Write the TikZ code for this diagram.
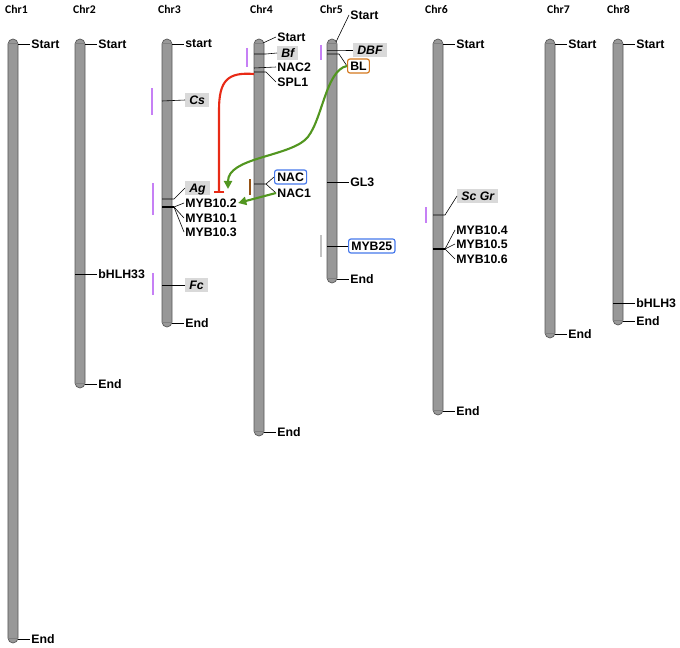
\documentclass[tikz,border=0pt]{standalone}
\usepackage{fontspec}
\setmainfont{Liberation Sans}
\newfontfamily\chrfont{Carlito}
\usepackage{tikz}
\usetikzlibrary{arrows.meta, positioning}
\usepackage{xcolor}
\definecolor{chromgray}{RGB}{152,152,152}
\definecolor{qtlgray}{RGB}{217,217,217}
\definecolor{qtlpurple}{RGB}{198,128,245}
\definecolor{nacbrown}{RGB}{150,82,20}
\definecolor{lightbar}{RGB}{195,195,195}
\definecolor{hitblue}{RGB}{70,120,235}
\definecolor{bloranege}{RGB}{212,120,30}
\definecolor{actgreen}{RGB}{82,150,32}
\definecolor{inhred}{RGB}{232,42,22}

\begin{document}
\begin{tikzpicture}[
    x=0.03cm, y=-0.03cm,
    chrom/.style={rectangle, draw=black!65, fill=chromgray, rounded corners=0.15cm, minimum width=0.3cm, inner sep=0pt, line width=0.6pt},
    capline/.style={draw=black!50, line width=0.4pt},
    chrlab/.style={font=\chrfont\bfseries\fontsize{10}{12}\selectfont, anchor=west, inner sep=0pt},
    gene/.style={font=\bfseries\fontsize{10.5}{12}\selectfont, anchor=west, inner sep=1pt},
    qtl/.style={gene, fill=qtlgray, font=\bfseries\itshape\fontsize{10.5}{12}\selectfont, inner xsep=3.5pt, inner ysep=2.3pt, text height=7.6pt, text depth=0.4pt},
    hit/.style={gene, draw=hitblue, rounded corners=2pt, line width=1pt, fill=white, inner xsep=2.3pt, inner ysep=2pt, text height=7.6pt, text depth=0.4pt},
    tick/.style={black, line width=0.5pt},
    qbar/.style={line width=2.3pt, line cap=butt},
    act/.style={-{Triangle[length=7pt, width=7pt]}, draw=actgreen, line width=1.8pt},
    inhib/.style={-{Bar[width=9pt, line width=1.8pt]}, draw=inhred, line width=1.8pt}
]
    \useasboundingbox (0,0) rectangle (680,647);

    % Chromosomes
    \node[chrom, minimum height=18.12cm] (chr1) at (13,341) {};
    \node[chrom, minimum height=10.47cm] (chr2) at (80,213.5) {};
    \node[chrom, minimum height=8.64cm] (chr3) at (167,183) {};
    \node[chrom, minimum height=11.91cm] (chr4) at (259,237.5) {};
    \node[chrom, minimum height=7.32cm] (chr5) at (332,161) {};
    \node[chrom, minimum height=11.28cm] (chr6) at (438,227) {};
    \node[chrom, minimum height=8.97cm] (chr7) at (550,188.5) {};
    \node[chrom, minimum height=8.58cm] (chr8) at (618,182) {};
    \foreach \c in {chr1,chr2,chr3,chr4,chr5,chr6,chr7,chr8} {
        \draw[capline] ([yshift=-0.15cm]\c.north west) -- ([yshift=-0.15cm]\c.north east);
        \draw[capline] ([yshift=0.15cm]\c.south west) -- ([yshift=0.15cm]\c.south east);
    }

    % Titles
    \node[chrlab] (lab1) at (5,9) {Chr1};
    \node[chrlab] (lab2) at (73,9) {Chr2};
    \node[chrlab] (lab3) at (158,9) {Chr3};
    \node[chrlab] (lab4) at (250,9) {Chr4};
    \node[chrlab] (lab5) at (320,9) {Chr5};
    \node[chrlab] (lab6) at (425,9) {Chr6};
    \node[chrlab] (lab7) at (547,9) {Chr7};
    \node[chrlab] (lab8) at (607,9) {Chr8};

    % QTL bars
    \draw[qbar, draw=qtlpurple] (152,88) -- (152,115);
    \draw[qbar, draw=qtlpurple] (153,183) -- (153,215);
    \draw[qbar, draw=qtlpurple] (153,273) -- (153,295);
    \draw[qbar, draw=qtlpurple] (247,48) -- (247,67);
    \draw[qbar, draw=qtlpurple] (321,45) -- (321,60);
    \draw[qbar, draw=qtlpurple] (426,207) -- (426,223);
    \draw[qbar, draw=nacbrown] (250,179) -- (250,195);
    \draw[qbar, draw=lightbar] (321,235) -- (321,257);

    % Chr1
    \node[gene] (s1) at (30,44) {Start};
    \node[gene] (e1) at (30,639) {End};
    \coordinate (c1-s) at (18,44);
    \coordinate (c1-e) at (18,639);
    \draw[tick] (c1-s) -- (s1.west);
    \draw[tick] (c1-e) -- (e1.west);

    % Chr2
    \node[gene] (s2) at (97,44) {Start};
    \node[gene] (bhlh33) at (97,274) {bHLH33};
    \node[gene] (e2) at (97,384) {End};
    \coordinate (c2-s) at (85,44);
    \coordinate (c2-b) at (75,274);
    \coordinate (c2-e) at (85,384);
    \draw[tick] (c2-s) -- (s2.west);
    \draw[tick] (c2-b) -- (bhlh33.west);
    \draw[tick] (c2-e) -- (e2.west);

    % Chr3
    \node[gene] (s3) at (184,44) {start};
    \node[qtl] (cs) at (185,100) {Cs};
    \node[qtl] (ag) at (185,188) {Ag};
    \node[gene] (myb102) at (184,203) {MYB10.2};
    \node[gene] (myb101) at (184,218) {MYB10.1};
    \node[gene] (myb103) at (184,232) {MYB10.3};
    \node[qtl] (fc) at (185,285) {Fc};
    \node[gene] (e3) at (184,323) {End};
    \coordinate (c3-s) at (172,44);
    \coordinate (c3-cs) at (162,101);
    \coordinate (c3-ag) at (162,199);
    \coordinate (c3-myb) at (162,207);
    \coordinate (c3-fc) at (162,285);
    \coordinate (c3-e) at (172,323);
    \draw[tick] (c3-s) -- (s3.west);
    \draw[tick] (c3-cs) -- (cs.west);
    \draw[tick] (c3-ag) -- ++(12,0) -- (ag.west);
    \draw[tick, line width=0.9pt] (c3-myb) -- ++(12,0);
    \draw[tick] (c3-myb) ++(12,0) -- (myb102.west);
    \draw[tick] (c3-myb) ++(12,0) -- (myb101.west);
    \draw[tick] (c3-myb) ++(12,0) -- (myb103.west);
    \draw[tick] (c3-fc) -- (fc.west);
    \draw[tick] (c3-e) -- (e3.west);

    % Chr4
    \node[gene] (s4) at (276,37) {Start};
    \node[qtl] (bf) at (277,53) {Bf};
    \node[gene] (nac2) at (276,67) {NAC2};
    \node[gene] (spl1) at (276,82) {SPL1};
    \node[hit] (nac) at (274,177) {NAC};
    \node[gene] (nac1) at (276,193) {NAC1};
    \node[gene] (e4) at (276,432) {End};
    \coordinate (c4-s) at (263,43);
    \coordinate (c4-bf) at (254,54);
    \coordinate (c4-nac2) at (254,68);
    \coordinate (c4-spl1) at (254,72);
    \coordinate (c4-nac) at (254,184);
    \coordinate (c4-e) at (264,432);
    \draw[tick] (c4-s) -- (s4.west);
    \draw[tick] (c4-bf) -- ++(12,0) -- (bf.west);
    \draw[tick] (c4-nac2) -- (nac2.west);
    \draw[tick] (c4-spl1) -- ++(12,0) -- (spl1.west);
    \draw[tick] (c4-nac) -- ++(12,0) -- (nac.west);
    \draw[tick] (c4-nac) ++(12,0) -- (nac1.west);
    \draw[tick] (c4-e) -- (e4.west);

    % Chr5
    \node[gene] (s5) at (349,15) {Start};
    \node[qtl] (dbf) at (353,50) {DBF};
    \node[hit, draw=bloranege] (bl) at (347,66) {BL};
    \node[gene] (gl3) at (349,182) {GL3};
    \node[hit] (myb25) at (348,246) {MYB25};
    \node[gene] (e5) at (349,279) {End};
    \coordinate (c5-s) at (336,42);
    \coordinate (c5-dbf) at (327,50);
    \coordinate (c5-bl) at (327,54);
    \coordinate (c5-gl3) at (327,182);
    \coordinate (c5-myb25) at (327,246);
    \coordinate (c5-e) at (337,279);
    \draw[tick] (c5-s) -- (s5.west);
    \draw[tick] (c5-dbf) -- ++(12,0) -- (dbf.west);
    \draw[tick] (c5-bl) -- ++(12,0) -- (bl.west);
    \draw[tick] (c5-gl3) -- (gl3.west);
    \draw[tick] (c5-myb25) -- (myb25.west);
    \draw[tick] (c5-e) -- (e5.west);

    % Chr6
    \node[gene] (s6) at (455,44) {Start};
    \node[qtl] (scgr) at (457,196) {Sc Gr};
    \node[gene] (myb104) at (455,230) {MYB10.4};
    \node[gene] (myb105) at (455,244) {MYB10.5};
    \node[gene] (myb106) at (455,259) {MYB10.6};
    \node[gene] (e6) at (455,411) {End};
    \coordinate (c6-s) at (443,44);
    \coordinate (c6-scgr) at (433,215);
    \coordinate (c6-myb) at (433,249);
    \coordinate (c6-e) at (443,411);
    \draw[tick] (c6-s) -- (s6.west);
    \draw[tick] (c6-scgr) -- ++(12,0) -- (scgr.west);
    \draw[tick, line width=0.9pt] (c6-myb) -- ++(12,0);
    \draw[tick] (c6-myb) ++(12,0) -- (myb104.west);
    \draw[tick] (c6-myb) ++(12,0) -- (myb105.west);
    \draw[tick] (c6-myb) ++(12,0) -- (myb106.west);
    \draw[tick] (c6-e) -- (e6.west);

    % Chr7
    \node[gene] (s7) at (567,44) {Start};
    \node[gene] (e7) at (567,334) {End};
    \coordinate (c7-s) at (555,44);
    \coordinate (c7-e) at (555,334);
    \draw[tick] (c7-s) -- (s7.west);
    \draw[tick] (c7-e) -- (e7.west);

    % Chr8
    \node[gene] (s8) at (635,44) {Start};
    \node[gene] (bhlh3) at (635,303) {bHLH3};
    \node[gene] (e8) at (635,321) {End};
    \coordinate (c8-s) at (623,44);
    \coordinate (c8-b) at (613,303);
    \coordinate (c8-e) at (623,321);
    \draw[tick] (c8-s) -- (s8.west);
    \draw[tick] (c8-b) -- (bhlh3.west);
    \draw[tick] (c8-e) -- (e8.west);

    % Regulation
    \coordinate (inh) at (219,193);
    \coordinate (bl-tip) at (228,189);
    \draw[inhib] (c4-spl1) ++(0,2) .. controls (228,72) and (219,80) .. (219,110) -- (inh);
    \draw[act] (bl.west) .. controls (325,70) and (322,125) .. (305,140) .. controls (285,157) and (228,158) .. (bl-tip);
    \draw[act] (nac1.west) -- (myb102.east);

\end{tikzpicture}
\end{document}
